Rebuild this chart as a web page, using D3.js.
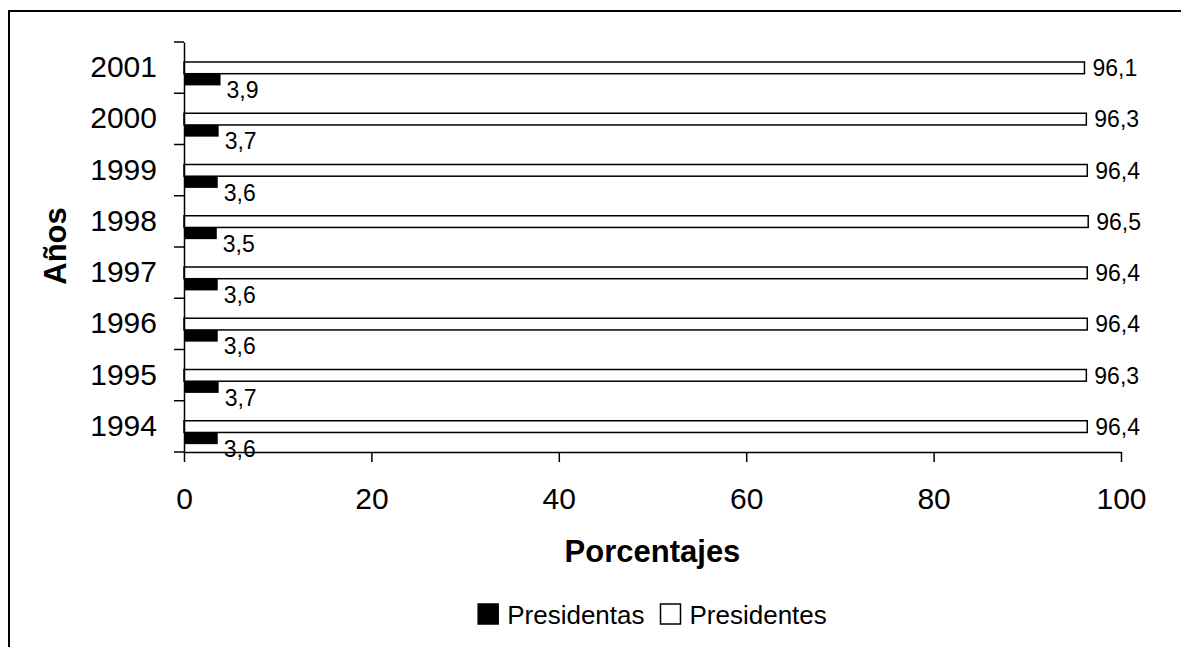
<!DOCTYPE html>
<html>
<head>
<meta charset="utf-8">
<script src="https://cdn.jsdelivr.net/npm/d3@7"></script>
<style>
  body { margin: 0; background: #fff; }
  svg { display: block; font-family: "Liberation Sans", Arial, sans-serif; }
</style>
</head>
<body>
<svg id="chart" width="1181" height="647"></svg>
<script>
const years = ["1994", "1995", "1996", "1997", "1998", "1999", "2000", "2001"]
const presidentas = [3.6, 3.7, 3.6, 3.6, 3.5, 3.6, 3.7, 3.9]
const presidentes = [96.4, 96.3, 96.4, 96.4, 96.5, 96.4, 96.3, 96.1]
const xTicks = [0, 20, 40, 60, 80, 100]
const seriesNames = ["Presidentas", "Presidentes"]

const fmt = (v) => String(v).replace(".", ",")

const svg = d3.select("#chart")

// outer frame (only left and top edges are visible in the picture)
svg.append("rect")
    .attr("x", 9).attr("y", 11)
    .attr("width", 1200).attr("height", 700)
    .attr("fill", "none")
    .attr("stroke", "#000")
    .attr("stroke-width", 2)

const x = d3.scaleLinear().domain([0, 100]).range([184, 1121])
const y = d3.scaleBand().domain(years.slice().reverse()).range([42, 452])
const bw = y.bandwidth()
const barH = 11.7
const barTop = 20

const rows = years.map((yr, i) => ({ yr, a: presidentas[i], o: presidentes[i] }))

const g = svg.append("g")

// white bars (Presidentes)
g.selectAll("rect.pres")
    .data(rows)
    .enter()
    .append("rect")
        .attr("class", "pres")
        .attr("x", x(0))
        .attr("y", d => y(d.yr) + barTop)
        .attr("width", d => x(d.o) - x(0))
        .attr("height", barH)
        .attr("fill", "#fff")
        .attr("stroke", "#000")
        .attr("stroke-width", 1.5)

// black bars (Presidentas)
g.selectAll("rect.presa")
    .data(rows)
    .enter()
    .append("rect")
        .attr("class", "presa")
        .attr("x", x(0))
        .attr("y", d => y(d.yr) + barTop + barH)
        .attr("width", d => x(d.a) - x(0))
        .attr("height", barH)
        .attr("fill", "#000")

// value labels
g.selectAll("text.vo")
    .data(rows)
    .enter()
    .append("text")
        .attr("x", d => x(d.o) + 8)
        .attr("y", d => y(d.yr) + 34)
        .attr("font-size", 23)
        .text(d => fmt(d.o))

g.selectAll("text.va")
    .data(rows)
    .enter()
    .append("text")
        .attr("x", d => x(d.a) + 6)
        .attr("y", d => y(d.yr) + 56)
        .attr("font-size", 23)
        .text(d => fmt(d.a))

// x axis
const xAxis = svg.append("g")
    .attr("transform", `translate(0,${y.range()[1]})`)
    .call(d3.axisBottom(x).tickValues(xTicks).tickSize(10).tickSizeOuter(0).tickPadding(26))
xAxis.select(".domain").attr("stroke-width", 1.5)
xAxis.selectAll(".tick line").attr("stroke-width", 1.5)
xAxis.selectAll("text").attr("font-size", 30).attr("font-family", "Liberation Sans, Arial, sans-serif")

// y axis
const yAxis = svg.append("g")
    .attr("transform", `translate(${x(0)},0)`)
    .call(d3.axisLeft(y).tickSize(0).tickSizeOuter(0).tickPadding(27))
yAxis.select(".domain").attr("stroke-width", 1.5)
yAxis.selectAll("text").attr("font-size", 30).attr("font-family", "Liberation Sans, Arial, sans-serif")

// ticks between categories
const bounds = years.map(yr => y(yr)).concat([y(years[0]) + bw])
svg.append("g")
    .selectAll("line")
    .data(bounds)
    .enter()
    .append("line")
        .attr("x1", x(0) - 10).attr("x2", x(0))
        .attr("y1", d => d).attr("y2", d => d)
        .attr("stroke", "#000")
        .attr("stroke-width", 1.5)

// axis titles
svg.append("text")
    .attr("x", (x(0) + x(100)) / 2)
    .attr("y", 562)
    .attr("text-anchor", "middle")
    .attr("font-size", 31)
    .attr("font-weight", "bold")
    .text("Porcentajes")

svg.append("text")
    .attr("transform", "translate(66,246) rotate(-90)")
    .attr("text-anchor", "middle")
    .attr("font-size", 31)
    .attr("font-weight", "bold")
    .text("Años")

// legend
const legend = svg.append("g")
const items = legend.selectAll("g")
    .data(seriesNames)
    .enter()
    .append("g")
items.append("rect")
    .attr("width", 20).attr("height", 20)
    .attr("y", 604)
    .attr("fill", (_, i) => i === 0 ? "#000" : "#fff")
    .attr("stroke", "#000")
    .attr("stroke-width", 1.5)
items.append("text")
    .attr("x", 29)
    .attr("y", 624)
    .attr("font-size", 26)
    .text(d => d)

let cx = 0
const gap = 16
items.each(function () {
    const w = 29 + this.querySelector("text").getComputedTextLength()
    d3.select(this).attr("transform", `translate(${cx},0)`)
    cx += w + gap
})
const total = cx - gap
legend.attr("transform", `translate(${(x(0) + x(100)) / 2 - total / 2},0)`)
</script>
</body>
</html>
